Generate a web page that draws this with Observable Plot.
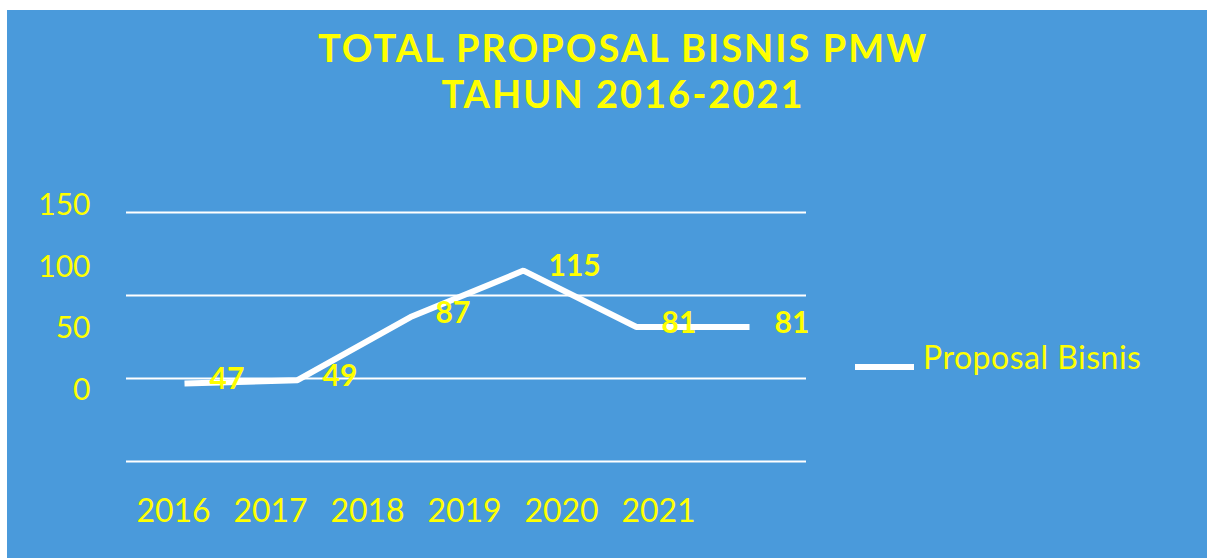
<!DOCTYPE html>
<html>
<head>
<meta charset="utf-8">
<script src="https://cdn.jsdelivr.net/npm/d3@7"></script>
<script src="https://cdn.jsdelivr.net/npm/@observablehq/plot@0.6"></script>
<style>
  html, body { margin: 0; padding: 0; background: #ffffff; width: 1207px; height: 558px; overflow: hidden; }
  #card { position: absolute; left: 7px; top: 10px; width: 1200px; height: 548px; background: #4a9adb; font-family: Lato, "Open Sans", sans-serif; }
  #title { height: 120px; box-sizing: border-box; padding-top: 14px; padding-left: 32px; text-align: center; color: #ffff00; font-weight: bold; font-size: 38px; line-height: 46px; letter-spacing: 2px; }
  #chart { position: relative; width: 1200px; height: 428px; }
  #chart svg { position: absolute; left: 0; top: 0; }
  #legend-swatch { position: absolute; left: 848px; top: 234px; width: 59px; height: 6px; background: #ffffff; }
  #legend-text { position: absolute; left: 916px; top: 211px; color: #ffff00; font-size: 32px; line-height: 32px; white-space: nowrap; letter-spacing: 0.5px; }
</style>
</head>
<body>
<div id="card">
  <div id="title"></div>
  <div id="chart"></div>
</div>
<script>
// ---- data ----
const titleLines = ["TOTAL PROPOSAL BISNIS PMW", "TAHUN 2016-2021"];
const years = ["2016", "2017", "2018", "2019", "2020", "2021"];
const proposals = [47, 49, 87, 115, 81, 81];
const yTicks = [0, 50, 100, 150];
const seriesName = "Proposal Bisnis";

const data = years.map((y, i) => ({ year: y, value: proposals[i] }));

document.getElementById("title").innerHTML = titleLines.map(t => `<div>${t}</div>`).join("");

const yellow = "#ffff00";
const font = "Lato, 'Open Sans', sans-serif";

// main chart: gridlines, line, value labels
const main = Plot.plot({
  width: 1200, height: 428,
  marginLeft: 119, marginRight: 401, marginTop: 82, marginBottom: 97,
  x: { type: "point", domain: years, padding: 0.5, axis: null },
  y: { domain: [0, 150], axis: null },
  style: { background: "transparent", fontFamily: font },
  marks: [
    Plot.ruleY(yTicks, { stroke: "#ffffff", strokeWidth: 2 }),
    Plot.line(data, { x: "year", y: "value", stroke: "#ffffff", strokeWidth: 6, strokeLinecap: "butt", strokeLinejoin: "miter" }),
    Plot.text(data, { x: "year", y: "value", text: d => String(d.value), dx: 25, dy: -4, textAnchor: "start", fill: yellow, fontWeight: "bold", fontSize: 30 })
  ]
});

// axis labels layer (offset scales as in the original)
const axes = Plot.plot({
  width: 1200, height: 428,
  marginLeft: 88, marginBottom: 61,
  x: { type: "point", domain: years, range: [166, 651], padding: 0 },
  y: { domain: [0, 150], range: [260, 75] },
  style: { background: "transparent", fontFamily: font, color: yellow },
  marks: [
    Plot.axisY(yTicks, { anchor: "left", tickSize: 0, tickPadding: 5, fontSize: 30, label: null }),
    Plot.axisX(years, { anchor: "bottom", tickSize: 0, tickPadding: 2, fontSize: 32, label: null })
  ]
});

const chart = document.getElementById("chart");
chart.appendChild(main);
chart.appendChild(axes);

const sw = document.createElement("div");
sw.id = "legend-swatch";
chart.appendChild(sw);
const lt = document.createElement("div");
lt.id = "legend-text";
lt.textContent = seriesName;
chart.appendChild(lt);
</script>
</body>
</html>
